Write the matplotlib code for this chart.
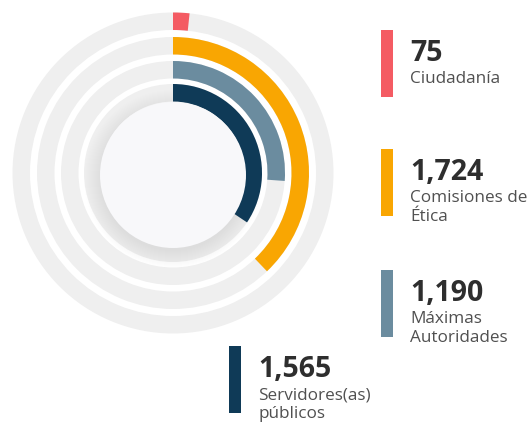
import matplotlib
matplotlib.use("Agg")
import matplotlib.pyplot as plt
from matplotlib.patches import Wedge, Circle, Rectangle

plt.rcParams['font.family'] = ['Open Sans', 'DejaVu Sans']

# ---- data ----
categories = ["Ciudadanía", "Comisiones de\nÉtica", "Máximas\nAutoridades", "Servidores(as)\npúblicos"]
values = [75, 1724, 1190, 1565]
value_labels = ["75", "1,724", "1,190", "1,565"]
colors = ["#F45B63", "#F9A602", "#6B8C9F", "#0F3A57"]

total = sum(values)

W, H = 528, 423
fig = plt.figure(figsize=(W / 100, H / 100), dpi=100)
ax = fig.add_axes([0, 0, 1, 1])
ax.set_xlim(0, W)
ax.set_ylim(0, H)
ax.axis('off')

def py(y):  # pixel row -> data y
    return H - y

cx, cy = 173, py(173)
outer_r = [160.5, 136, 112, 89]
band = 17.5
track_col = "#EFEFEF"

# background tracks
for r in outer_r:
    ax.add_patch(Wedge((cx, cy), r, 0, 360, width=band, facecolor=track_col, edgecolor='none'))

# soft shadow around centre disc
dcx, dcy, dr = 173, py(175), 73
for i in range(18):
    ax.add_patch(Circle((dcx, dcy - 4), dr + 16 - i, facecolor='black', edgecolor='none', alpha=0.0045))

# value arcs (clockwise from 12 o'clock)
for v, r, c in zip(values, outer_r, colors):
    ang = v / total * 360.0
    ax.add_patch(Wedge((cx, cy), r, 90 - ang, 90, width=band, facecolor=c, edgecolor='none'))

# centre disc
ax.add_patch(Circle((dcx, dcy), dr, facecolor="#F8F8FA", edgecolor='none'))

# legend blocks
legend_pos = [(381, 30), (381, 149), (381, 270), (229, 346)]  # (x, top) in pixels
bar_w, bar_h = 12, 67
for (x, top), c, vl, cat in zip(legend_pos, colors, value_labels, categories):
    ax.add_patch(Rectangle((x, py(top + bar_h)), bar_w, bar_h, facecolor=c, edgecolor='none'))
    tx = x + 29
    ax.text(tx, py(top + 31), vl, fontsize=20.5, fontweight='bold', color="#2E2E2E",
            va='baseline', ha='left')
    for j, line in enumerate(cat.split("\n")):
        ax.text(tx, py(top + 53 + 19 * j), line, fontsize=12.3, color="#505050",
                va='baseline', ha='left')

fig.savefig("out.png", dpi=100, facecolor='white')
